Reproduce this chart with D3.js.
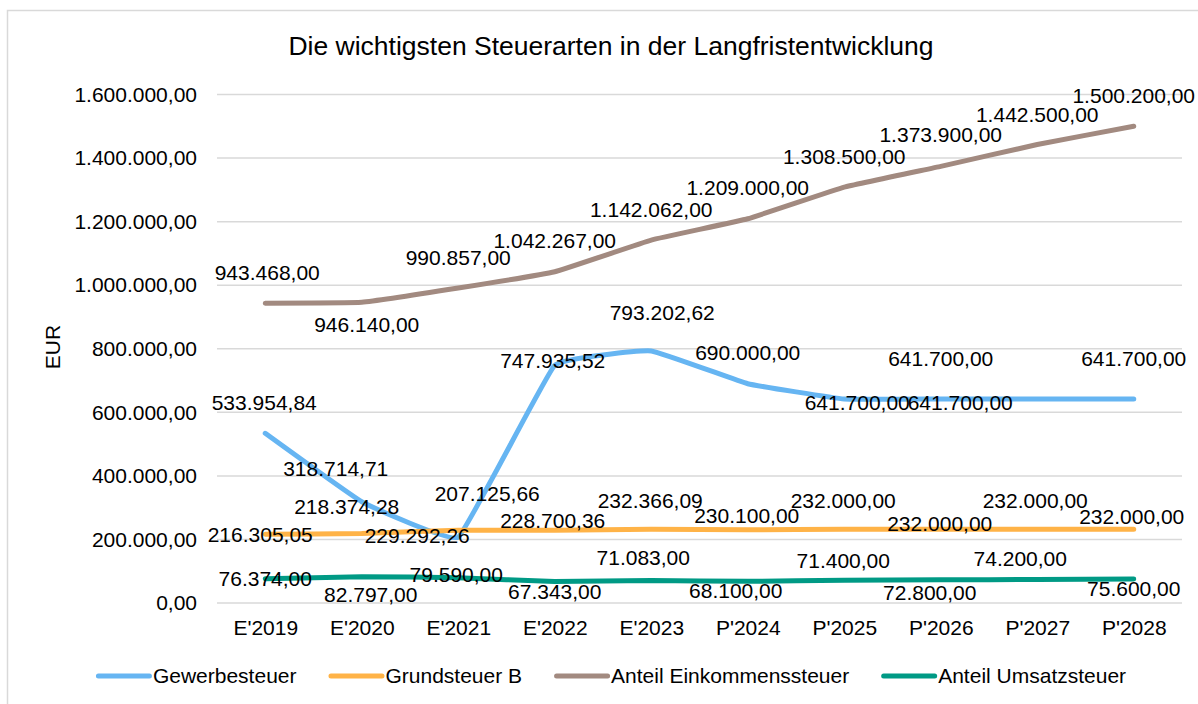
<!DOCTYPE html>
<html>
<head>
<meta charset="utf-8">
<script src="https://cdn.jsdelivr.net/npm/d3@7"></script>
<style>
  body { margin: 0; background: #fff; }
  text { font-family: "Liberation Sans", Arial, sans-serif; fill: #000; }
</style>
</head>
<body>
<div id="chart-area"></div>
<script>

//**************** Data *****************//

let categories = ["E'2019", "E'2020", "E'2021", "E'2022", "E'2023",
	"P'2024", "P'2025", "P'2026", "P'2027", "P'2028"];

let gewerbesteuer = [533954.84, 318714.71, 207125.66, 747935.52, 793202.62,
	690000, 641700, 641700, 641700, 641700];
let grundsteuerB = [216305.05, 218374.28, 229292.26, 228700.36, 232366.09,
	230100, 232000, 232000, 232000, 232000];
let einkommenssteuer = [943468, 946140, 990857, 1042267, 1142062,
	1209000, 1308500, 1373900, 1442500, 1500200];
let umsatzsteuer = [76374, 82797, 79590, 67343, 71083,
	68100, 71400, 72800, 74200, 75600];

let seriesNames = ['Gewerbesteuer', 'Grundsteuer B', 'Anteil Einkommenssteuer', 'Anteil Umsatzsteuer'];
let yTicks = [0, 200000, 400000, 600000, 800000, 1000000, 1200000, 1400000, 1600000];

// label placement (text centre relative to the point), like the hand-moved labels in the original
let offsGewerbe = [[-1,-31],[-26,-33],[29,-44],[-2,-5],[11,-38],[0,-31],[13,3],[0,-41],[-77,3],[0,-41]];
let offsGrund = [[-5,0],[-15,-27],[-41,5],[-2,-10],[-1,-29],[-1,-14],[-1,-29],[-1,-6],[-2,-29],[-2,-13]];
let offsEinkommen = [[2,-31],[5,22],[0,-31],[0,-31],[0,-31],[0,-31],[0,-31],[0,-32],[0,-30],[0,-31]];
let offsUmsatz = [[0,0],[9,18],[-2,-3],[0,10],[-8,-23],[-12,9],[-1,-20],[-11,13],[-17,-21],[0,9]];


//**************** Canvas *****************//

let width = 1198, height = 704;
let colors = ['#66b5f2', '#ffb347', '#a28a80', '#009a85'];

let svg = d3.select('#chart-area').append('svg')
	.attr('width', width)
	.attr('height', height);

// chart border (runs off the right and bottom of the window)
svg.append('rect')
	.attr('x', 7.5).attr('y', 10.5)
	.attr('width', 1207).attr('height', 700)
	.attr('fill', 'none')
	.attr('stroke', '#d9d9d9')
	.attr('stroke-width', 1.5);

svg.append('text')
	.attr('x', 611)
	.attr('y', 55)
	.attr('font-size', '26.5px')
	.attr('text-anchor', 'middle')
	.text('Die wichtigsten Steuerarten in der Langfristentwicklung');


//**************** Scales & Axes *****************//

let x = d3.scalePoint()
	.domain(categories)
	.range([217, 1182])
	.padding(0.5);

let y = d3.scaleLinear()
	.domain([0, 1600000])
	.range([603, 94.5]);

let de = d3.formatLocale({ decimal: ',', thousands: '.', grouping: [3], currency: ['', '€'] });
let fmt = de.format(',.2f');

// gridlines
svg.append('g').selectAll('line')
	.data(yTicks)
	.enter().append('line')
		.attr('x1', 217).attr('x2', 1182)
		.attr('y1', d => y(d)).attr('y2', d => y(d))
		.attr('stroke', '#d9d9d9')
		.attr('stroke-width', 1.5);

let yAxisCall = d3.axisLeft(y).tickValues(yTicks).tickFormat(fmt).tickSize(0).tickPadding(0);
svg.append('g')
	.attr('transform', 'translate(197, 0)')
	.call(yAxisCall)
	.call(g => g.select('.domain').remove())
	.selectAll('text')
		.attr('font-size', '21px')
		.attr('font-family', '"Liberation Sans", Arial, sans-serif');

let xAxisCall = d3.axisBottom(x).tickSize(0).tickPadding(0);
svg.append('g')
	.attr('transform', 'translate(0, 620)')
	.call(xAxisCall)
	.call(g => g.select('.domain').remove())
	.selectAll('text')
		.attr('font-size', '21px')
		.attr('font-family', '"Liberation Sans", Arial, sans-serif');

svg.append('text')
	.attr('transform', 'translate(52, 347) rotate(-90)')
	.attr('font-size', '21px')
	.attr('text-anchor', 'middle')
	.attr('dy', '0.36em')
	.text('EUR');


//**************** Lines *****************//

let allSeries = [gewerbesteuer, grundsteuerB, einkommenssteuer, umsatzsteuer];
let allOffs = [offsGewerbe, offsGrund, offsEinkommen, offsUmsatz];

let line = d3.line()
	.x((d, i) => x(categories[i]))
	.y(d => y(d))
	.curve(d3.curveCardinal.tension(0.75));

allSeries.forEach((vals, s) => {
	svg.append('path')
		.datum(vals)
		.attr('d', line)
		.attr('fill', 'none')
		.attr('stroke', colors[s])
		.attr('stroke-width', 5)
		.attr('stroke-linecap', 'round')
		.attr('stroke-linejoin', 'round');
});

// data labels on top
allSeries.forEach((vals, s) => {
	svg.append('g').selectAll('text')
		.data(vals)
		.enter().append('text')
			.attr('x', (d, i) => x(categories[i]) + allOffs[s][i][0])
			.attr('y', (d, i) => y(d) + allOffs[s][i][1])
			.attr('dy', '0.36em')
			.attr('font-size', '21px')
			.attr('text-anchor', 'middle')
			.text(d => fmt(d));
});


//**************** Legend *****************//

let legend = svg.append('g');
let lx = 0;
seriesNames.forEach((name, s) => {
	let item = legend.append('g').attr('transform', 'translate(' + lx + ', 0)');
	item.append('line')
		.attr('x1', 2.5).attr('x2', 53.5)
		.attr('y1', 676).attr('y2', 676)
		.attr('stroke', colors[s])
		.attr('stroke-width', 5)
		.attr('stroke-linecap', 'round');
	let t = item.append('text')
		.attr('x', 57)
		.attr('y', 683)
		.attr('font-size', '21px')
		.text(name);
	lx += 57 + t.node().getComputedTextLength() + 32;
});
let legendWidth = lx - 32;
legend.attr('transform', 'translate(' + (611 - legendWidth / 2) + ', 0)');

</script>
</body>
</html>
